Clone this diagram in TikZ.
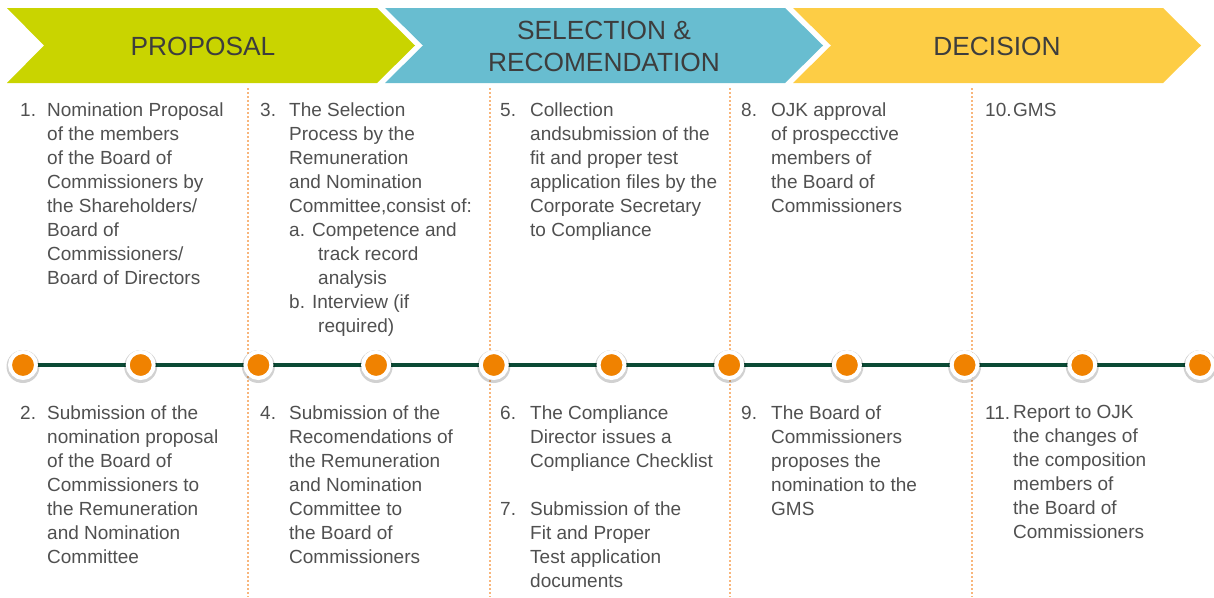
\documentclass[tikz,border=0pt]{standalone}
\usepackage{fontspec}
\setmainfont{Liberation Sans}
\definecolor{propgreen}{HTML}{C9D400}
\definecolor{selblue}{HTML}{68BDD0}
\definecolor{decyellow}{HTML}{FDCD45}
\definecolor{headgray}{HTML}{3D3D3D}
\definecolor{textgray}{HTML}{505050}
\definecolor{linegreen}{HTML}{0B4A35}
\definecolor{dotorange}{HTML}{F08200}
\definecolor{seporange}{HTML}{F8B67C}

\begin{document}
\begin{tikzpicture}[x=1pt,y=-1pt]
\tikzstyle{every node}+=[inner sep=0pt]
\tikzstyle{head}=[font=\fontsize{26.3}{32}\selectfont, text=headgray, align=center]
\tikzstyle{num}=[font=\fontsize{19}{24}\selectfont, text=textgray, anchor=base west]
\tikzstyle{body}=[font=\fontsize{19}{24}\selectfont, text=textgray, anchor=north west, align=left, execute at begin node=\strut]
\tikzstyle{sep}=[seporange, line width=2pt, dotted]
\tikzstyle{dot}=[circle, fill=dotorange, draw=white, line width=4pt, minimum size=26pt]
\useasboundingbox (0,0) rectangle (1214,597);
% chevrons
\fill [propgreen] (7,8) -- (377,8) -- (415,45.5) -- (377,83) -- (7,83) -- (44,45.5) -- cycle;
\fill [selblue] (385,8) -- (785,8) -- (823,45.5) -- (785,83) -- (385,83) -- (423,45.5) -- cycle;
\fill [decyellow] (793,8) -- (1163,8) -- (1201,45.5) -- (1163,83) -- (793,83) -- (831,45.5) -- cycle;
\node [head] (proposal) at (203,46) {PROPOSAL};
\node [head] (selection) at (604,46) {SELECTION \&\\RECOMENDATION};
\node [head] (decision) at (997,46) {DECISION};
% separators
\coordinate (s1a) at (248,88); \coordinate (s1b) at (248,597);
\coordinate (s2a) at (490,88); \coordinate (s2b) at (490,597);
\coordinate (s3a) at (730,88); \coordinate (s3b) at (730,597);
\coordinate (s4a) at (972,88); \coordinate (s4b) at (972,597);
\draw [sep] (s1a) -- (s1b);
\draw [sep] (s2a) -- (s2b);
\draw [sep] (s3a) -- (s3b);
\draw [sep] (s4a) -- (s4b);
% timeline
\coordinate (t1) at (23,365);
\coordinate (t11) at (1200,365);
\draw [linegreen, line width=4.5pt] (t1) -- (t11);
\foreach \i in {1,...,11} {
  \fill [black, opacity=0.18] (23+117.7*\i-117.7,366.5) circle (16.5);
  \node [dot] (d\i) at (23+117.7*\i-117.7,365) {};
}
% upper steps
\node [num] (n1) at (20,116) {1.};
\node [body] (b1) at (47,102.2) {Nomination Proposal\\of the members\\of the Board of\\Commissioners by\\the Shareholders/\\Board of\\Commissioners/\\Board of Directors};
\node [num] (n3) at (260,116) {3.};
\node [body] (b3) at (289,102.2) {The Selection\\Process by the\\Remuneration\\and Nomination\\Committee,consist of:\\a. Competence and\\\hspace*{29pt}track record\\\hspace*{29pt}analysis\\b. Interview (if\\\hspace*{29pt}required)};
\node [num] (n5) at (500,116) {5.};
\node [body] (b5) at (530,102.2) {Collection\\andsubmission of the\\fit and proper test\\application files by the\\Corporate Secretary\\to Compliance};
\node [num] (n8) at (741,116) {8.};
\node [body] (b8) at (771,102.2) {OJK approval\\of prospecctive\\members of\\the Board of\\Commissioners};
\node [num] (n10) at (985,116) {10.};
\node [num] (b10) at (1013,116) {GMS};
% lower steps
\node [num] (n2) at (20,419) {2.};
\node [body] (b2) at (47,405.2) {Submission of the\\nomination proposal\\of the Board of\\Commissioners to\\the Remuneration\\and Nomination\\Committee};
\node [num] (n4) at (260,419) {4.};
\node [body] (b4) at (289,405.2) {Submission of the\\Recomendations of\\the Remuneration\\and Nomination\\Committee to\\the Board of\\Commissioners};
\node [num] (n6) at (500,419) {6.};
\node [body] (b6) at (530,405.2) {The Compliance\\Director issues a\\Compliance Checklist};
\node [num] (n7) at (500,515) {7.};
\node [body] (b7) at (530,501.2) {Submission of the\\Fit and Proper\\Test application\\documents};
\node [num] (n9) at (741,419) {9.};
\node [body] (b9) at (771,405.2) {The Board of\\Commissioners\\proposes the\\nomination to the\\GMS};
\node [num] (n11) at (985,419) {11.};
\node [body] (b11) at (1013,405.2) {Report to OJK\\the changes of\\the composition\\members of\\the Board of\\Commissioners};
\end{tikzpicture}
\end{document}
